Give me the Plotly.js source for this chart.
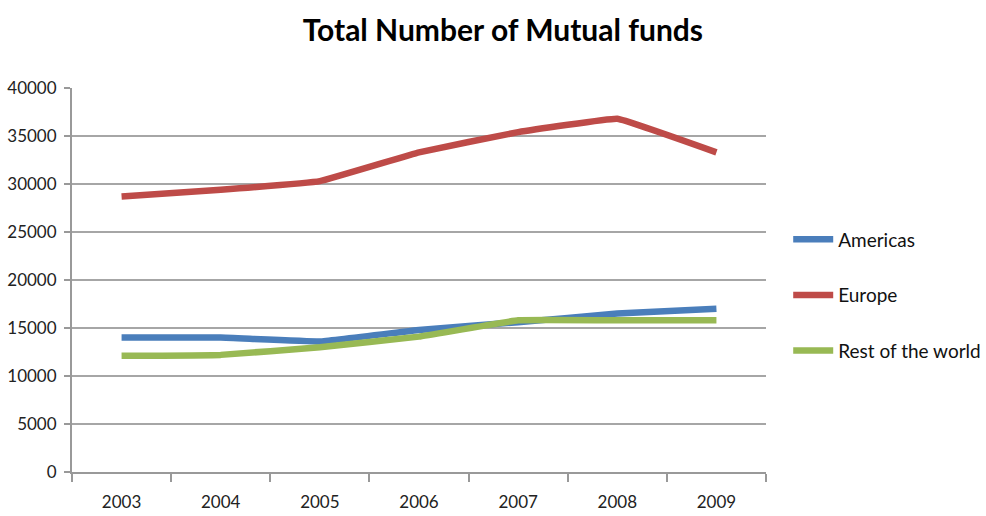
<!DOCTYPE html>
<html>
<head>
<meta charset="utf-8">
<script src="https://cdn.plot.ly/plotly-3.0.1.min.js"></script>
<style>html,body{margin:0;padding:0;background:#fff;}#chart{width:986px;height:516px;}</style>
</head>
<body>
<div id="chart"></div>
<script>
var years = ["2003", "2004", "2005", "2006", "2007", "2008", "2009"];
var americas = [14000, 14000, 13600, 14800, 15600, 16500, 17000];
var europe = [28700, 29400, 30300, 33300, 35400, 36800, 33300];
var restOfWorld = [12100, 12200, 13000, 14100, 15800, 15800, 15800];
var seriesNames = ["Americas", "Europe", "Rest of the world"];
var yTicks = [0, 5000, 10000, 15000, 20000, 25000, 30000, 35000, 40000];

var fontFam = 'Lato, "Liberation Sans", sans-serif';
var colors = ["#4A7EBB", "#BE4B48", "#98B954"];
var series = [americas, europe, restOfWorld];

var traces = series.map(function (vals, i) {
  return {
    x: years,
    y: vals,
    name: seriesNames[i],
    type: "scatter",
    mode: "lines",
    legendgroup: "g" + i,
    line: { color: colors[i], width: 6.5, shape: "spline", smoothing: 0.2 }
  };
});

var layout = {
  width: 986,
  height: 516,
  paper_bgcolor: "#fff",
  plot_bgcolor: "#fff",
  margin: { l: 72, r: 220, t: 88, b: 44, autoexpand: false },
  title: {
    text: "<b>Total Number of Mutual funds</b>",
    font: { family: fontFam, size: 30, color: "#000" },
    x: 0.51, xref: "container", xanchor: "center",
    y: 0.94, yref: "container", yanchor: "middle"
  },
  font: { family: fontFam, color: "#222" },
  showlegend: true,
  legend: {
    x: 1.032, xanchor: "left", y: 0.46, yanchor: "middle",
    xref: "paper",
    traceorder: "grouped", tracegroupgap: 28,
    font: { family: fontFam, size: 19, color: "#111" },
    itemwidth: 40
  },
  xaxis: {
    type: "category",
    range: [-0.5, 6.5],
    showgrid: false,
    showline: true, linecolor: "#999", linewidth: 2,
    ticks: "outside", tickson: "boundaries", ticklen: 8, tickcolor: "#999", tickwidth: 2,
    ticklabelstandoff: 14,
    tickfont: { family: fontFam, size: 17, color: "#222" },
    fixedrange: true
  },
  yaxis: {
    range: [0, 40000],
    tickvals: yTicks,
    ticktext: yTicks.map(String),
    showgrid: true, gridcolor: "#a6a6a6", gridwidth: 2,
    showline: true, linecolor: "#999", linewidth: 2,
    ticks: "outside", ticklen: 6, tickcolor: "#999", tickwidth: 2,
    ticklabelstandoff: 4,
    tickfont: { family: fontFam, size: 17, color: "#222" },
    zeroline: false,
    fixedrange: true
  }
};

Plotly.newPlot("chart", traces, layout, { displayModeBar: false, staticPlot: true });
</script>
</body>
</html>
